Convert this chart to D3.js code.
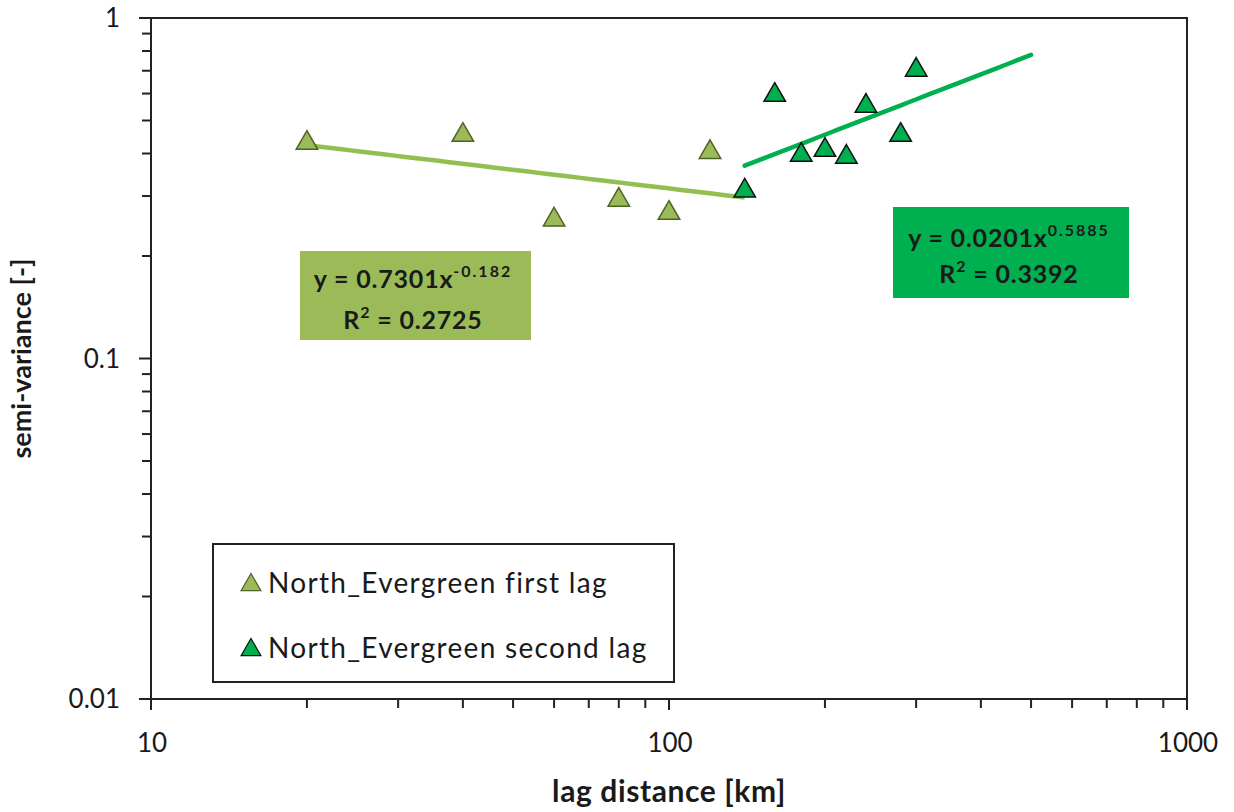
<!DOCTYPE html>
<html>
<head>
<meta charset="utf-8">
<script src="https://cdn.jsdelivr.net/npm/d3@7"></script>
<style>
  body { margin: 0; background: #fff; }
  svg { display: block; font-family: Lato, "Open Sans", sans-serif; }
</style>
</head>
<body>
<svg id="chart" width="1234" height="812"></svg>
<script>
// Semi-variance vs lag distance, two lag groups
const firstLagX = [20, 40, 60, 80, 100, 120];
const firstLagY = [0.435, 0.459, 0.259, 0.296, 0.271, 0.409];
const secondLagX = [140, 160, 180, 200, 220, 240, 280, 300];
const secondLagY = [0.315, 0.602, 0.401, 0.415, 0.396, 0.559, 0.459, 0.713];

// Power-law fits y = a * x^b
const fitFirst = { a: 0.7301, b: -0.182, r2: 0.2725, x0: 20, x1: 140 };
const fitSecond = { a: 0.0201, b: 0.5885, r2: 0.3392, x0: 140, x1: 500 };

const xTicks = [10, 100, 1000];
const yTicks = [0.01, 0.1, 1];
const seriesNames = ["North_Evergreen first lag", "North_Evergreen second lag"];

const colFirst = "#9BBB59", colFirstLine = "#92C050", colFirstEdge = "#4F6228";
const colSecond = "#00B050", colSecondEdge = "#111";
const ink = "#1a1a1a";

const svg = d3.select("#chart");
const L = 151, R = 1187, T = 18, B = 699;

const x = d3.scaleLog().domain([10, 1000]).range([L, R]);
const y = d3.scaleLog().domain([0.01, 1]).range([B, T]);

// plot frame (top and right edges)
svg.append("path")
  .attr("d", `M${L},${T}H${R}V${B}`)
  .attr("fill", "none").attr("stroke", "#222").attr("stroke-width", 2);

// minor ticks
const xMinor = [];
for (const d of [10, 100]) for (let k = 2; k <= 9; k++) xMinor.push(d * k);
const yMinor = [];
for (const d of [0.01, 0.1]) for (let k = 2; k <= 9; k++) yMinor.push(+(d * k).toFixed(3));

const gx = svg.append("g");
gx.selectAll("line.minor").data(xMinor).join("line")
  .attr("x1", d => x(d)).attr("x2", d => x(d))
  .attr("y1", B).attr("y2", B + 9)
  .attr("stroke", "#222").attr("stroke-width", 2);
gx.selectAll("line.major").data(xTicks).join("line")
  .attr("x1", d => x(d)).attr("x2", d => x(d))
  .attr("y1", B).attr("y2", B + 11)
  .attr("stroke", "#222").attr("stroke-width", 2);
gx.append("line").attr("x1", L - 10).attr("x2", R).attr("y1", B).attr("y2", B)
  .attr("stroke", "#222").attr("stroke-width", 2);
gx.selectAll("text").data(xTicks).join("text")
  .attr("x", d => x(d) + 1).attr("y", 752)
  .attr("text-anchor", "middle").attr("font-size", 26).attr("fill", ink)
  .text(d => d);

const gy = svg.append("g");
gy.selectAll("line.minor").data(yMinor).join("line")
  .attr("x1", L - 9).attr("x2", L)
  .attr("y1", d => y(d)).attr("y2", d => y(d))
  .attr("stroke", "#222").attr("stroke-width", 2);
gy.selectAll("line.major").data(yTicks).join("line")
  .attr("x1", L - 12).attr("x2", L)
  .attr("y1", d => y(d)).attr("y2", d => y(d))
  .attr("stroke", "#222").attr("stroke-width", 2);
gy.append("line").attr("x1", L).attr("x2", L).attr("y1", T).attr("y2", B + 11)
  .attr("stroke", "#222").attr("stroke-width", 2);
gy.selectAll("text").data(yTicks).join("text")
  .attr("x", 120).attr("y", d => y(d) + 9)
  .attr("text-anchor", "end").attr("font-size", 26).attr("fill", ink)
  .text(d => String(d));

// axis titles
svg.append("text").attr("x", 669).attr("y", 802).attr("text-anchor", "middle")
  .attr("font-size", 30).attr("font-weight", "bold").attr("fill", ink)
  .attr("letter-spacing", 0.6)
  .text("lag distance  [km]");
svg.append("text").attr("transform", `translate(31,${(T + B) / 2}) rotate(-90)`)
  .attr("text-anchor", "middle").attr("font-size", 27).attr("font-weight", "bold").attr("fill", ink)
  .text("semi-variance  [-]");

// trend lines
function fitLine(f) {
  const xs = d3.range(0, 41).map(i => f.x0 * Math.pow(f.x1 / f.x0, i / 40));
  return d3.line().x(d => x(d)).y(d => y(f.a * Math.pow(d, f.b)))(xs);
}
svg.append("path").attr("d", fitLine(fitFirst)).attr("fill", "none")
  .attr("stroke", colFirstLine).attr("stroke-width", 4.5);
svg.append("path").attr("d", fitLine(fitSecond)).attr("fill", "none")
  .attr("stroke", colSecond).attr("stroke-width", 4.5).attr("stroke-linecap", "round");

// triangle markers
const tri = d3.symbol().type(d3.symbolTriangle).size(200);
function drawPoints(xs, ys, fill, edge) {
  svg.append("g").selectAll("path").data(xs.map((v, i) => [v, ys[i]])).join("path")
    .attr("d", tri)
    .attr("transform", d => `translate(${x(d[0])},${y(d[1]) + 2})`)
    .attr("fill", fill).attr("stroke", edge).attr("stroke-width", 1.5);
}
drawPoints(firstLagX, firstLagY, colFirst, colFirstEdge);
drawPoints(secondLagX, secondLagY, colSecond, colSecondEdge);

// equation labels
function eqBox(bx, by, bw, bh, fill, cx, base1, base2, coefText, expText, r2Text) {
  const g = svg.append("g");
  g.append("rect").attr("x", bx).attr("y", by).attr("width", bw).attr("height", bh).attr("fill", fill);
  const t1 = g.append("text").attr("x", cx).attr("y", base1)
    .attr("text-anchor", "middle").attr("font-weight", "bold").attr("fill", ink)
    .attr("font-size", 25).attr("letter-spacing", 0.8);
  t1.append("tspan").text(coefText);
  t1.append("tspan").attr("font-size", 16).attr("letter-spacing", 2).attr("dy", -11).text(expText);
  const t2 = g.append("text").attr("x", cx).attr("y", base2)
    .attr("text-anchor", "middle").attr("font-weight", "bold").attr("fill", ink)
    .attr("font-size", 25).attr("letter-spacing", 0.8);
  t2.append("tspan").text("R");
  t2.append("tspan").attr("font-size", 16).attr("dy", -11).text("2");
  t2.append("tspan").attr("dy", 11).text(" = " + r2Text);
}
eqBox(300, 251, 231, 89, colFirst, 413, 288, 329,
  "y = " + fitFirst.a + "x", String(fitFirst.b), fitFirst.r2);
eqBox(893, 207, 236, 91, colSecond, 1009, 247, 283,
  "y = " + fitSecond.a + "x", String(fitSecond.b), fitSecond.r2);

// legend
const lg = svg.append("g");
lg.append("rect").attr("x", 213).attr("y", 544).attr("width", 461).attr("height", 138)
  .attr("fill", "#fff").attr("stroke", "#222").attr("stroke-width", 2);
const legendItems = [
  { name: seriesNames[0], fill: colFirst, edge: colFirstEdge, yy: 585 },
  { name: seriesNames[1], fill: colSecond, edge: colSecondEdge, yy: 650 }
];
legendItems.forEach(it => {
  lg.append("path").attr("d", d3.symbol().type(d3.symbolTriangle).size(170))
    .attr("transform", `translate(251,${it.yy})`)
    .attr("fill", it.fill).attr("stroke", it.edge).attr("stroke-width", 1.2);
  lg.append("text").attr("x", 268).attr("y", it.yy + 8).attr("font-size", 28)
    .attr("fill", ink).attr("letter-spacing", 1.3).text(it.name);
});
</script>
</body>
</html>
